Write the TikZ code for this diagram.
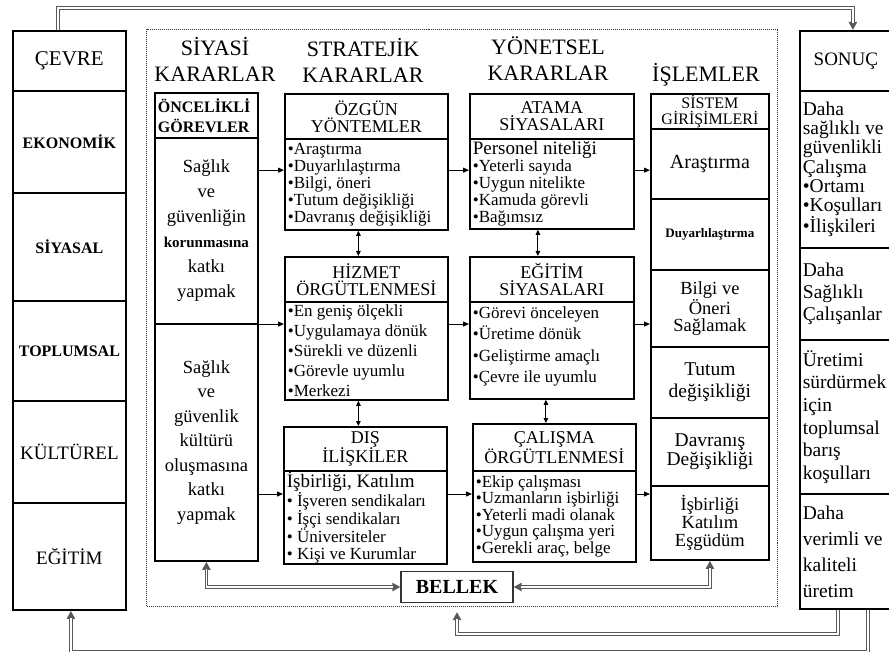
\documentclass[tikz,border=0pt]{standalone}
\usepackage{fontspec}
\setmainfont{Liberation Serif}
\usetikzlibrary{shapes.multipart,arrows.meta,calc}

\newcommand{\fs}[2]{\fontsize{#1}{#2}\selectfont}
% part cells: the split line takes 1.8pt of each part
\newcommand{\cellc}[3]{\parbox[c][\dimexpr#2pt-1.8pt\relax][c]{#1pt}{\centering #3}}
\newcommand{\celll}[3]{\parbox[c][\dimexpr#2pt-1.8pt\relax][c]{#1pt}{\raggedright\leftskip=3pt #3}}

\begin{document}
\begin{tikzpicture}[%
					x=1pt, y=-1pt,
					column/.style={%
						draw,
						line width=1.8pt,
						rectangle split,
						rectangle split parts=#1,
						inner sep=0pt,
						anchor=north west
					},
					title/.style={align=center, font=\fs{22}{26}},
					frame/.style={draw=black!80, line width=1pt, dash pattern=on 1pt off 1pt, inner sep=0pt, anchor=north west},
					arr/.style={line width=1pt, -{Triangle[length=6pt,width=5pt]}},
					darr/.style={line width=1pt, {Triangle[length=5pt,width=4.5pt]}-{Triangle[length=5pt,width=4.5pt]}},
					dline/.style={%
						line width=3.6pt, draw=black!65,
						-{Triangle[length=8pt,width=8pt]},
						postaction={draw=white, line width=1.4pt, -, shorten >=7pt}
					},
					ddline/.style={%
						line width=3.6pt, draw=black!65,
						{Triangle[length=8pt,width=8pt]}-{Triangle[length=8pt,width=8pt]},
						postaction={draw=white, line width=1.4pt, -, shorten >=7pt, shorten <=7pt}
					}
				]
				\useasboundingbox (0, 0) rectangle (889, 652);

				\node (frame) [frame, minimum width=631pt, minimum height=577pt] at (146, 29) {};

				\node (t1) [title] at (215, 59) {SİYASİ\\KARARLAR};
				\node (t2) [title] at (363, 60) {STRATEJİK\\KARARLAR};
				\node (t3) [title] at (548, 59) {YÖNETSEL\\KARARLAR};
				\node (t4) [title] at (706, 75) {İŞLEMLER};

				\node (cevre) [column=6] at (12, 30) {%
					\cellc{113}{60}{\fs{21}{24}ÇEVRE}%
					\nodepart{two}\cellc{113}{102}{\fs{16}{18}\bfseries EKONOMİK}%
					\nodepart{three}\cellc{113}{108}{\fs{16}{18}\bfseries SİYASAL}%
					\nodepart{four}\cellc{113}{100}{\fs{16}{18}\bfseries TOPLUMSAL}%
					\nodepart{five}\cellc{113}{102}{\fs{19}{22}KÜLTÜREL}%
					\nodepart{six}\cellc{113}{107}{\fs{19}{22}EĞİTİM}%
				};

				\node (siyasi) [column=3] at (154, 92) {%
					\celll{103}{45}{\fs{16}{20}\bfseries ÖNCELİKLİ\\GÖREVLER}%
					\nodepart{two}\cellc{103}{186}{\fs{18.5}{25}Sağlık\\ve\\güvenliğin\\{\fs{15}{25}\bfseries korunmasına}\\katkı\\yapmak}%
					\nodepart{three}\cellc{103}{237}{\fs{18.5}{24.5}Sağlık\\ve\\güvenlik\\kültürü\\oluşmasına\\katkı\\yapmak}%
				};

				\node (ozgun) [column=2] at (284, 93) {%
					\cellc{163}{45}{\fs{18}{17}ÖZGÜN\\YÖNTEMLER}%
					\nodepart{two}\celll{163}{91}{\fs{17}{17}•Araştırma\\•Duyarlılaştırma\\•Bilgi, öneri\\•Tutum değişikliği\\•Davranış değişikliği}%
				};

				\node (hizmet) [column=2] at (284, 256) {%
					\cellc{163}{45}{\fs{18}{17}HİZMET\\ÖRGÜTLENMESİ}%
					\nodepart{two}\celll{163}{98}{\fs{17}{20}•En geniş ölçekli\\•Uygulamaya dönük\\•Sürekli ve düzenli\\•Görevle uyumlu\\•Merkezi}%
				};

				\node (dis) [column=2] at (283, 426) {%
					\cellc{163}{44}{\fs{18}{17}DIŞ\\İLİŞKİLER}%
					\nodepart{two}\celll{163}{93}{\fs{17}{17.5}{\fs{19}{17.5}İşbirliği, Katılım}\\• İşveren sendikaları\\• İşçi sendikaları\\• Üniversiteler\\• Kişi ve Kurumlar}%
				};

				\node (atama) [column=2] at (469, 93) {%
					\cellc{164}{45}{\fs{18}{17}ATAMA\\SİYASALARI}%
					\nodepart{two}\celll{164}{90}{\fs{17}{17}{\fs{19}{17}Personel niteliği}\\•Yeterli sayıda\\•Uygun nitelikte\\•Kamuda görevli\\•Bağımsız}%
				};

				\node (egitim) [column=2] at (469, 256) {%
					\cellc{164}{45}{\fs{18}{17}EĞİTİM\\SİYASALARI}%
					\nodepart{two}\celll{164}{97}{\fs{17}{21.5}•Görevi önceleyen\\•Üretime dönük\\•Geliştirme amaçlı\\•Çevre ile uyumlu\vspace{8pt}}%
				};

				\node (calisma) [column=2] at (472, 423) {%
					\cellc{163}{47}{\fs{18}{17}ÇALIŞMA\\ÖRGÜTLENMESİ}%
					\nodepart{two}\celll{163}{91}{\fs{17}{16.5}•Ekip çalışması\\•Uzmanların işbirliği\\•Yeterli madi olanak\\•Uygun çalışma yeri\\•Gerekli araç, belge}%
				};

				\node (islemler) [column=7] at (650, 93) {%
					\cellc{118}{35}{\fs{16}{16}SİSTEM\\GİRİŞİMLERİ}%
					\nodepart{two}\cellc{118}{70}{\fs{20}{20}Araştırma}%
					\nodepart{three}\cellc{118}{71}{\fs{13}{15}\bfseries Duyarlılaştırma}%
					\nodepart{four}\cellc{118}{77}{\fs{18.5}{17.5}Bilgi ve\\Öneri\\Sağlamak}%
					\nodepart{five}\cellc{118}{71}{\fs{19.5}{22}Tutum\\değişikliği}%
					\nodepart{six}\cellc{118}{68}{\fs{19.5}{19.5}Davranış\\Değişikliği}%
					\nodepart{seven}\cellc{118}{74}{\fs{18.5}{18}İşbirliği\\Katılım\\Eşgüdüm}%
				};

				\node (sonuc) [column=5] at (799, 30) {%
					\cellc{92}{60}{\fs{19}{22}SONUÇ}%
					\nodepart{two}\celll{92}{157}{\fs{19.5}{19.3}Daha\\sağlıklı ve\\güvenlikli\\Çalışma\\•Ortamı\\•Koşulları\\•İlişkileri}%
					\nodepart{three}\celll{92}{92}{\fs{19.5}{22}Daha\\Sağlıklı\\Çalışanlar}%
					\nodepart{four}\celll{92}{154}{\fs{19.5}{22.6}Üretimi\\sürdürmek\\için\\toplumsal\\barış\\koşulları}%
					\nodepart{five}\celll{92}{115}{\fs{19.5}{26}Daha\\verimli ve\\kaliteli\\üretim}%
				};

				\node (bellek) [draw=black!80, line width=1.2pt, minimum width=112pt, minimum height=31pt, inner sep=0pt, font=\fs{20}{20}\bfseries] at (457, 587) {BELLEK};

				% rows of the decision flow
				\coordinate (r1) at ($(ozgun.north west)!.56!(ozgun.south west)$);
				\coordinate (r2) at ($(hizmet.north west)!.47!(hizmet.south west)$);
				\coordinate (r3) at ($(dis.north west)!.49!(dis.south west)$);

				\draw[arr] (siyasi.east |- r1) -- (r1);
				\draw[arr] (ozgun.east |- r1) -- (atama.west |- r1);
				\draw[arr] (atama.east |- r1) -- (islemler.west |- r1);
				\draw[arr] (siyasi.east |- r2) -- (r2);
				\draw[arr] (hizmet.east |- r2) -- (egitim.west |- r2);
				\draw[arr] (egitim.east |- r2) -- (islemler.west |- r2);
				\draw[arr] (siyasi.east |- r3) -- (r3);
				\draw[arr] (dis.east |- r3) -- (calisma.west |- r3);
				\draw[arr] (calisma.east |- r3) -- (islemler.west |- r3);

				\draw[darr] ([xshift=-8pt]ozgun.south) -- ([xshift=-8pt]hizmet.north);
				\draw[darr] ([xshift=-8pt]hizmet.south) -- ([xshift=-7pt]dis.north);
				\draw[darr] ([xshift=-14pt]atama.south) -- ([xshift=-14pt]egitim.north);
				\draw[darr] ([xshift=-6pt]egitim.south) -- ([xshift=-8.5pt]calisma.north);

				% feedback loops
				\draw[dline] ([xshift=-11.5pt]cevre.north) -- ++(0, -22) -| ([xshift=7pt]sonuc.north);
				\draw[dline] ([xshift=-8pt]sonuc.south) -- ++(0, 24) -| ([yshift=-5pt]frame.south -| bellek.south);
				\draw[dline] ([xshift=22pt]sonuc.south) -- ++(0, 42) -| ([xshift=1.5pt]cevre.south);
				\draw[ddline] (siyasi.south) |- (bellek.west);
				\draw[ddline] (bellek.east) -| (islemler.south);
			\end{tikzpicture}
\end{document}
